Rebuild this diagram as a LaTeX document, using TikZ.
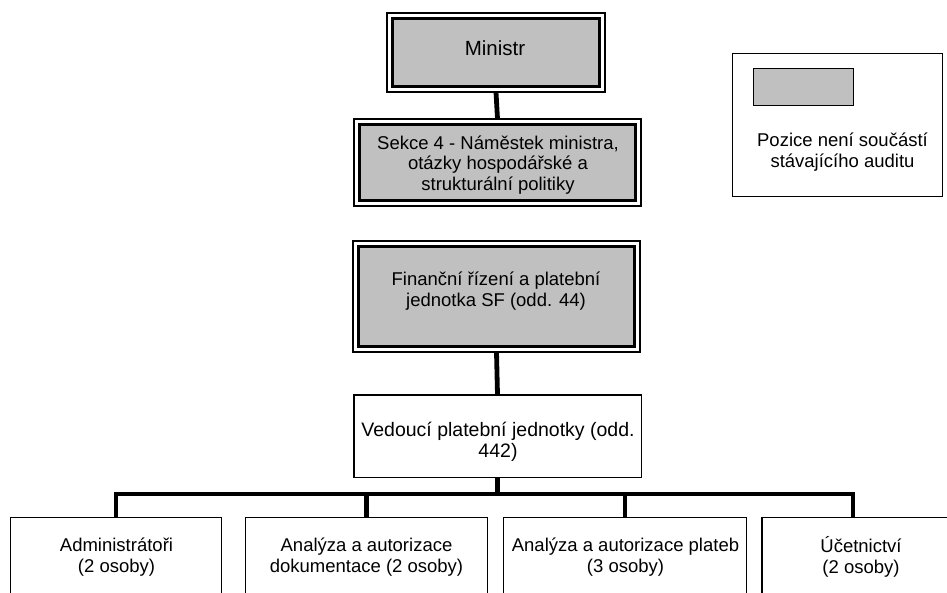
\documentclass[tikz,border=0pt]{standalone}
\usepackage{fontspec}
\setmainfont{Liberation Sans}
\usetikzlibrary{fit}
\definecolor{boxgray}{HTML}{C0C0C0}
\tikzset{
  gbox/.style={draw=black, line width=3pt, fill=boxgray, outer sep=0pt, inner sep=0pt},
  gframe/.style={draw=black, line width=1.6pt, inner sep=6pt, outer sep=0pt},
  wbox/.style={draw=black, line width=1.5pt, fill=white, outer sep=0pt, inner sep=0pt},
  openbox/.style={draw=none, fill=white, outer sep=0pt, inner sep=0pt},
  boxedge/.style={draw=black, line width=1.5pt},
  legbox/.style={draw=black, line width=1.2pt, outer sep=0pt, inner sep=0pt},
  txt/.style={align=center, inner sep=0pt, font=\fontsize{18.5}{21.3}\selectfont},
  conn/.style={draw=black, line width=4.8pt, line join=miter, line cap=butt},
}
\begin{document}
\begin{tikzpicture}[x=1pt, y=-1pt]
\useasboundingbox (0,0) rectangle (947,593);

% gray double-framed boxes
\node[gbox, minimum width=206.4pt, minimum height=67.4pt] (min) at (496,52.5) {};
\node[gframe, fit=(min)] (minO) {};
\node[txt, font=\fontsize{20.5}{23}\selectfont] (minT) at (495,48) {Ministr};

\node[gbox, minimum width=275.4pt, minimum height=75.4pt] (sek) at (497.5,162.5) {};
\node[gframe, fit=(sek)] (sekO) {};
\node[txt, font=\fontsize{18.5}{20.8}\selectfont] (sekT) at (498,165) {Sekce 4 - Náměstek ministra,\\otázky hospodářské a\\strukturální politiky};

\node[gbox, minimum width=275.4pt, minimum height=99.4pt] (fin) at (496.5,296.5) {};
\node[gframe, fit=(fin)] (finO) {};
\node[txt] (finT) at (496,291) {Finanční řízení a platební\\jednotka SF (odd. 44)};

% head of payment unit
\node[wbox, minimum width=287.5pt, minimum height=82.5pt] (ved) at (497.5,436) {};
\node[txt, font=\fontsize{19.5}{20.5}\selectfont] (vedT) at (498,442) {Vedoucí platební jednotky (odd.\\442)};

% bottom boxes (cut off by the page edge)
\node[wbox, minimum width=211pt, minimum height=84pt] (b1) at (116,559.7) {};
\node[wbox, minimum width=242pt, minimum height=84pt] (b2) at (366.5,559.7) {};
\node[wbox, minimum width=243pt, minimum height=84pt] (b3) at (625,559.7) {};
\node[openbox, minimum width=185pt, minimum height=84pt] (b4) at (854.5,559.7) {};
\draw[boxedge] (b4.south west) -- (b4.north west) -- (b4.north east);
\node[txt] (b1T) at (116.5,557) {Administrátoři\\(2 osoby)};
\node[txt] (b2T) at (366.5,557) {Analýza a autorizace\\dokumentace (2 osoby)};
\node[txt] (b3T) at (625.5,557) {Analýza a autorizace plateb\\(3 osoby)};
\node[txt] (b4T) at (861,557) {Účetnictví\\(2 osoby)};

% legend
\node[legbox, minimum width=209.8pt, minimum height=142.8pt] (leg) at (837.5,125) {};
\node[gbox, line width=1.5pt, minimum width=100pt, minimum height=37pt] (legS) at (803.5,87) {};
\node[txt] (legT) at (842.5,152) {Pozice není součástí\\stávajícího auditu};

% connectors
\coordinate (bus) at (498,494);
\coordinate (b4d) at (853,517.7);
\draw[conn] (minO.south) -- (sekO.north);
\draw[conn] (finO.south) -- (ved.north);
\draw[conn] (ved.south) -- (ved.south |- bus);
\draw[conn] (b1.north) -- (b1.north |- bus) -- (b4d |- bus) -- (b4d);
\draw[conn] (b2.north) -- (b2.north |- bus);
\draw[conn] (b3.north) -- (b3.north |- bus);
\end{tikzpicture}
\end{document}
